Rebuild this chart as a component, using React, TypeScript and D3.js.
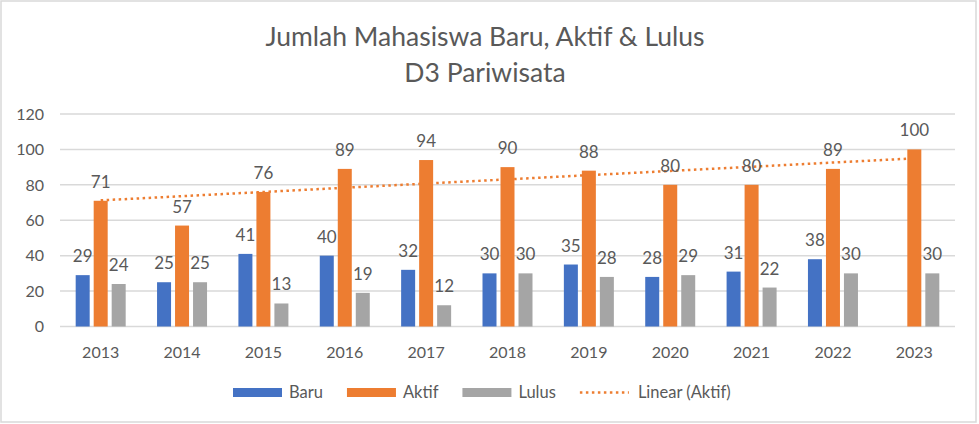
// @ts-nocheck
import React, { useEffect, useRef } from "react";
import * as d3 from "d3";

const years = ["2013", "2014", "2015", "2016", "2017", "2018", "2019", "2020", "2021", "2022", "2023"];
const baru = [29, 25, 41, 40, 32, 30, 35, 28, 31, 38, null];
const aktif = [71, 57, 76, 89, 94, 90, 88, 80, 80, 89, 100];
const lulus = [24, 25, 13, 19, 12, 30, 28, 29, 22, 30, 30];
const yTicks = [0, 20, 40, 60, 80, 100, 120];
const seriesNames = ["Baru", "Aktif", "Lulus"];
const colors = ["#4472C4", "#ED7D31", "#A5A5A5"];
const titleLines = ["Jumlah Mahasiswa Baru, Aktif & Lulus", "D3 Pariwisata"];

const FONT = "Lato, 'Open Sans', sans-serif";
const TEXT = "#595959";

const App = () => {
  const svgRef = useRef();

  useEffect(() => {
    const svg = d3.select(svgRef.current);
    svg.selectAll("*").remove();

    // chart border
    svg
      .append("rect")
      .attr("x", 1)
      .attr("y", 1)
      .attr("width", 975)
      .attr("height", 421)
      .attr("fill", "#fff")
      .attr("stroke", "#d9d9d9")
      .attr("stroke-width", 1.5);

    // title
    svg
      .append("g")
      .selectAll("text")
      .data(titleLines)
      .join("text")
      .attr("x", 485)
      .attr("y", (d, i) => 46 + i * 36)
      .attr("text-anchor", "middle")
      .attr("font-family", FONT)
      .attr("font-size", 26.5)
      .attr("fill", TEXT)
      .text(d => d);

    const x = d3.scaleBand().domain(years).range([60, 955]).padding(0);
    const groupW = 50;
    const xs = d3
      .scaleBand()
      .domain(seriesNames)
      .range([0, groupW])
      .paddingInner(4 / 18);
    const y = d3.scaleLinear().domain([0, 120]).range([326.5, 114]);

    // grid
    svg
      .append("g")
      .selectAll("line")
      .data(yTicks)
      .join("line")
      .attr("x1", 60)
      .attr("x2", 955)
      .attr("y1", d => y(d))
      .attr("y2", d => y(d))
      .attr("stroke", "#d9d9d9")
      .attr("stroke-width", 1.5);

    // y labels
    svg
      .append("g")
      .selectAll("text")
      .data(yTicks)
      .join("text")
      .attr("x", 44)
      .attr("y", d => y(d))
      .attr("dy", "0.36em")
      .attr("text-anchor", "end")
      .attr("font-family", FONT)
      .attr("font-size", 16)
      .attr("fill", TEXT)
      .text(d => d);

    // x labels
    svg
      .append("g")
      .selectAll("text")
      .data(years)
      .join("text")
      .attr("x", d => x(d) + x.bandwidth() / 2)
      .attr("y", 358)
      .attr("text-anchor", "middle")
      .attr("font-family", FONT)
      .attr("font-size", 16)
      .attr("fill", TEXT)
      .text(d => d);

    // linear trendline of Aktif (least squares), drawn behind the bars
    const idx = aktif.map((_, i) => i + 1);
    const mx = d3.mean(idx),
      my = d3.mean(aktif);
    const slope =
      d3.sum(idx, (xi, i) => (xi - mx) * (aktif[i] - my)) / d3.sum(idx, xi => (xi - mx) ** 2);
    const icpt = my - slope * mx;
    const trend = years.map((yr, i) => ({ yr, v: icpt + slope * (i + 1) }));
    svg
      .append("path")
      .datum(trend)
      .attr("fill", "none")
      .attr("stroke", colors[1])
      .attr("stroke-width", 2.5)
      .attr("stroke-dasharray", "2.5 3.5")
      .attr(
        "d",
        d3
          .line()
          .x(d => x(d.yr) + x.bandwidth() / 2)
          .y(d => y(d.v))
      );

    const data = [baru, aktif, lulus];
    const bars = [];
    years.forEach((yr, i) => {
      seriesNames.forEach((s, j) => {
        const v = data[j][i];
        if (v == null) return;
        bars.push({ yr, s, j, v });
      });
    });
    const bx = d => x(d.yr) + x.bandwidth() / 2 - groupW / 2 + xs(d.s);

    svg
      .append("g")
      .selectAll("rect")
      .data(bars)
      .join("rect")
      .attr("x", bx)
      .attr("y", d => y(d.v))
      .attr("width", xs.bandwidth())
      .attr("height", d => y(0) - y(d.v))
      .attr("fill", d => colors[d.j]);

    svg
      .append("g")
      .selectAll("text")
      .data(bars)
      .join("text")
      .attr("x", d => bx(d) + xs.bandwidth() / 2)
      .attr("y", d => y(d.v) - 13)
      .attr("text-anchor", "middle")
      .attr("font-family", FONT)
      .attr("font-size", 17)
      .attr("fill", TEXT)
      .text(d => d.v);

    // legend
    const legendItems = [
      { name: "Baru", color: colors[0], kind: "bar" },
      { name: "Aktif", color: colors[1], kind: "bar" },
      { name: "Lulus", color: colors[2], kind: "bar" },
      { name: "Linear (Aktif)", color: colors[1], kind: "dot" }
    ];
    const lg = svg.append("g");
    let lx = 233;
    const ly = 392.5;
    legendItems.forEach(item => {
      const gap = item.kind === "bar" ? 7 : 9;
      if (item.kind === "bar") {
        lg.append("rect")
          .attr("x", lx)
          .attr("y", ly - 4.5)
          .attr("width", 49)
          .attr("height", 9)
          .attr("fill", item.color);
      } else {
        lg.append("line")
          .attr("x1", lx)
          .attr("x2", lx + 49)
          .attr("y1", ly)
          .attr("y2", ly)
          .attr("stroke", item.color)
          .attr("stroke-width", 2.5)
          .attr("stroke-dasharray", "2.5 3.5");
      }
      const t = lg
        .append("text")
        .attr("x", lx + 49 + gap)
        .attr("y", ly)
        .attr("dy", "0.36em")
        .attr("font-family", FONT)
        .attr("font-size", 16.5)
        .attr("fill", TEXT)
        .text(item.name);
      const tw = t.node().getComputedTextLength();
      lx = lx + 49 + gap + tw + 24;
    });
  }, []);

  return (
    <svg
      ref={svgRef}
      width={979}
      height={424}
      style={{ position: "absolute", left: 0, top: 0, background: "#fff" }}
    />
  );
};

export default App;
